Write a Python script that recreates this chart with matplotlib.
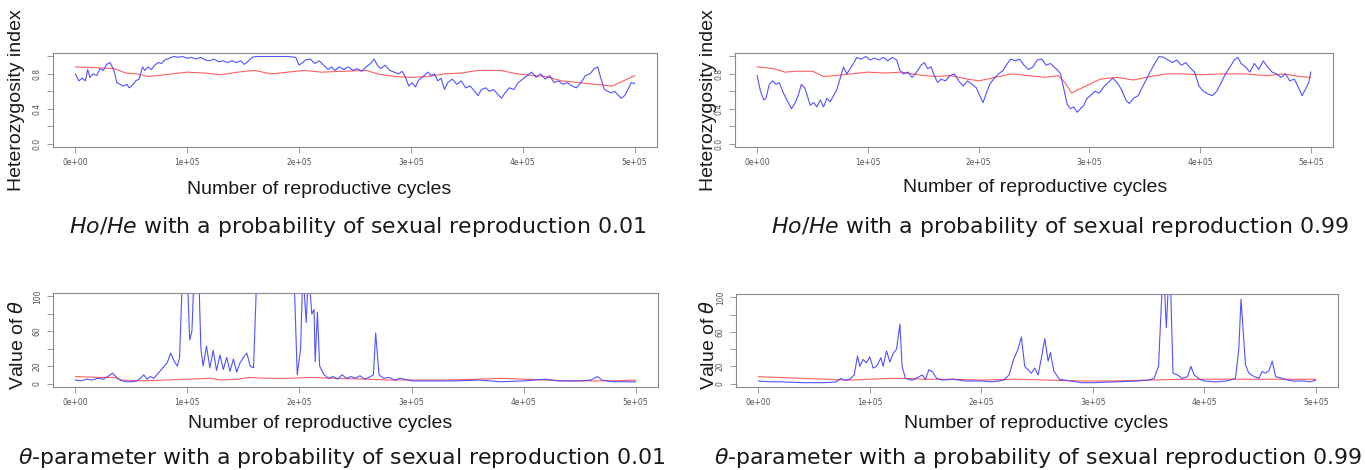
import matplotlib
matplotlib.use("Agg")
import matplotlib.pyplot as plt
import numpy as np

# ---------------- data (x in thousands of reproductive cycles) ----------------
x_ticks = [0, 100000, 200000, 300000, 400000, 500000]
x_tick_labels = ["0e+00", "1e+05", "2e+05", "3e+05", "4e+05", "5e+05"]
het_ticks = [0.0, 0.2, 0.4, 0.6, 0.8, 1.0]
het_tick_labels = ["0.0", "", "0.4", "", "0.8", ""]
theta_ticks = [0, 20, 40, 60, 80, 100]
theta_tick_labels = ["0", "20", "", "60", "", "100"]

het01_blue_x = [0,3,6,9,11,13,16,19,22,25,28,31,33,35,37,40,43,46,48,51,54,57,60,62,65,68,71,74,77,80,84,88,92,96,100,104,108,112,116,120,124,128,132,136,140,144,148,151,154,158,162,170,180,190,197,200,203,206,210,214,218,222,226,229,232,236,240,244,248,252,256,260,264,267,270,273,277,281,285,289,292,295,298,301,304,307,311,315,318,321,324,327,330,333,337,341,345,349,353,357,360,363,367,370,374,378,381,384,388,392,396,400,404,408,412,416,420,424,428,432,436,440,444,448,452,456,460,464,467,470,473,476,479,482,485,488,491,494,497,500]
het01_blue_y = [0.80,0.72,0.75,0.72,0.85,0.76,0.80,0.78,0.86,0.84,0.91,0.93,0.88,0.82,0.70,0.68,0.66,0.68,0.64,0.67,0.72,0.74,0.88,0.84,0.88,0.85,0.90,0.93,0.92,0.96,0.98,1.0,0.99,1.0,0.98,0.99,0.97,0.99,0.96,0.95,0.97,0.94,0.95,0.93,0.95,0.93,0.95,0.91,0.94,0.99,1.0,1.0,1.0,1.0,0.99,0.90,0.93,0.96,0.97,0.92,0.95,0.90,0.85,0.88,0.84,0.88,0.85,0.88,0.84,0.86,0.83,0.88,0.92,0.97,0.90,0.86,0.90,0.84,0.82,0.80,0.83,0.77,0.66,0.70,0.65,0.73,0.77,0.82,0.78,0.80,0.72,0.75,0.62,0.70,0.74,0.68,0.72,0.64,0.66,0.60,0.55,0.62,0.64,0.60,0.62,0.56,0.52,0.58,0.64,0.62,0.70,0.74,0.78,0.82,0.76,0.80,0.74,0.78,0.70,0.72,0.68,0.70,0.66,0.64,0.70,0.78,0.80,0.86,0.88,0.74,0.62,0.60,0.58,0.60,0.56,0.52,0.55,0.62,0.70,0.69]
het01_red_x = [0,20,35,45,55,65,80,100,115,130,145,160,175,190,205,220,240,260,270,285,300,315,330,345,360,380,395,410,420,435,450,465,480,490,500]
het01_red_y = [0.88,0.87,0.86,0.81,0.80,0.77,0.79,0.82,0.81,0.79,0.82,0.84,0.80,0.82,0.84,0.82,0.83,0.84,0.80,0.77,0.76,0.77,0.80,0.81,0.84,0.84,0.80,0.78,0.77,0.72,0.70,0.68,0.66,0.72,0.78]

het99_blue_x = [0,3,6,8,11,14,17,20,23,26,29,31,34,37,40,43,46,48,51,54,57,60,63,66,69,72,75,78,81,84,87,90,94,98,102,106,110,114,118,122,126,129,132,136,140,144,148,151,154,157,160,163,166,170,174,178,182,186,190,194,198,201,204,207,210,214,218,222,226,229,233,237,241,245,249,253,257,261,265,268,271,274,277,280,283,286,289,292,295,298,301,305,309,313,317,321,325,329,333,336,340,344,348,352,356,360,363,367,371,375,379,383,387,391,395,399,403,407,411,415,419,423,427,431,434,437,441,445,449,453,457,461,465,469,473,477,481,485,489,492,495,498,500]
het99_blue_y = [0.78,0.60,0.50,0.52,0.68,0.72,0.68,0.70,0.60,0.52,0.45,0.40,0.46,0.55,0.68,0.64,0.52,0.44,0.47,0.42,0.50,0.42,0.52,0.48,0.55,0.62,0.75,0.88,0.80,0.86,0.92,0.99,0.97,1.0,0.96,0.98,0.96,0.99,0.95,0.99,0.96,0.84,0.80,0.82,0.76,0.82,0.90,0.93,0.86,0.88,0.78,0.70,0.74,0.72,0.78,0.80,0.72,0.66,0.72,0.68,0.64,0.55,0.47,0.58,0.68,0.75,0.80,0.84,0.92,0.97,0.95,0.97,0.90,0.85,0.88,0.96,0.97,0.90,0.92,0.88,0.85,0.80,0.62,0.45,0.40,0.42,0.36,0.40,0.44,0.52,0.55,0.60,0.58,0.65,0.70,0.75,0.70,0.62,0.50,0.46,0.52,0.55,0.65,0.75,0.85,0.94,1.0,0.99,0.96,0.93,0.96,0.90,0.93,0.87,0.82,0.66,0.60,0.57,0.55,0.60,0.70,0.80,0.88,0.96,0.99,0.92,0.88,0.82,0.92,0.85,0.95,0.88,0.82,0.80,0.76,0.80,0.72,0.74,0.64,0.55,0.62,0.70,0.82]
het99_red_x = [0,15,25,35,50,60,70,85,100,115,130,145,160,175,190,200,215,230,245,260,272,278,284,290,300,310,325,340,355,370,385,400,420,440,460,475,490,500]
het99_red_y = [0.88,0.86,0.82,0.83,0.83,0.77,0.78,0.80,0.82,0.81,0.82,0.79,0.77,0.78,0.74,0.72,0.76,0.80,0.78,0.76,0.78,0.70,0.58,0.62,0.68,0.74,0.76,0.73,0.77,0.80,0.80,0.79,0.80,0.80,0.78,0.80,0.77,0.76]

theta01_blue_x = [0,5,10,15,20,25,30,33,36,40,45,50,55,58,61,64,67,70,74,78,82,85,88,91,93,95,98,100,102,104,106,108,110,112,114,117,120,123,126,129,132,135,138,141,144,147,150,153,156,159,162,170,180,190,195,198,201,203,206,208,211,213,214,216,218,222,226,230,234,238,242,246,250,254,258,262,266,268,271,275,280,285,290,300,320,340,360,380,400,410,420,430,450,460,466,470,480,490,500]
theta01_blue_y = [4,3,5,4,6,5,9,12,8,4,2,2,3,6,10,5,8,6,12,18,24,35,26,20,30,105,130,120,50,60,130,110,130,40,20,43,18,38,15,33,16,30,14,28,13,24,30,35,20,18,130,140,140,140,130,10,40,130,70,130,80,85,25,82,20,10,6,8,5,10,6,8,6,9,5,7,10,58,10,6,7,4,6,3,3,3,4,2,3,4,5,3,3,4,8,4,2,2,2]
theta01_red_x = [0,20,35,40,60,80,100,120,130,145,155,170,190,210,230,260,280,300,330,360,380,400,420,440,460,480,500]
theta01_red_y = [8,7,7,4,3,4,5,6,4,5,7,6,6,7,6,5,4,4,4,5,6,5,4,3,3,3,4]

theta99_blue_x = [0,10,20,40,60,70,74,77,82,86,89,91,94,97,100,103,106,110,112,115,118,121,124,127,129,132,138,143,147,150,153,156,160,165,175,185,200,210,220,225,229,233,236,239,242,245,248,251,254,257,260,262,265,270,280,290,300,320,340,350,355,359,362,364,366,368,370,372,376,380,385,388,391,396,400,410,420,428,431,433,435,437,440,445,449,452,455,458,461,464,470,475,480,490,495,500]
theta99_blue_y = [3,2,2,1,1,2,6,4,5,10,32,20,28,24,31,18,20,30,20,38,25,35,40,69,20,6,4,7,10,5,16,14,6,4,5,3,3,2,4,10,28,40,54,20,16,12,18,10,30,52,26,36,15,5,3,1,1,2,3,4,6,20,105,120,65,120,105,12,10,6,8,20,10,5,3,2,3,6,40,98,60,22,12,8,6,14,12,15,26,8,6,4,3,3,2,4]
theta99_red_x = [0,20,40,60,80,100,120,130,150,175,200,230,260,290,320,350,380,410,440,470,500]
theta99_red_y = [8,7,6,5,4,5,6,6,5,5,4,5,4,3,3,4,5,5,5,5,5]

# ---------------- layout helpers (pixel -> figure fraction) ----------------
W, H = 1365, 470
def fx(px):
    return px / W
def fy(py):
    return 1 - py / H
def ax_rect(l, r, t, b):
    return [l / W, 1 - b / H, (r - l) / W, (b - t) / H]

BLUE = (0.25, 0.25, 1.0)
RED = (1.0, 0.3, 0.3)
FRAME = "#8a8a8a"

fig = plt.figure(figsize=(13.65, 4.70), dpi=100)

panels = [
    dict(rect=ax_rect(53, 657, 53, 147), bx=het01_blue_x, by=het01_blue_y, rx=het01_red_x, ry=het01_red_y,
         ylim=(-0.04, 1.04), yt=het_ticks, ytl=het_tick_labels),
    dict(rect=ax_rect(735, 1333, 53, 147), bx=het99_blue_x, by=het99_blue_y, rx=het99_red_x, ry=het99_red_y,
         ylim=(-0.04, 1.04), yt=het_ticks, ytl=het_tick_labels),
    dict(rect=ax_rect(53, 658, 293, 387), bx=theta01_blue_x, by=theta01_blue_y, rx=theta01_red_x, ry=theta01_red_y,
         ylim=(-4, 104), yt=theta_ticks, ytl=theta_tick_labels),
    dict(rect=ax_rect(736, 1338, 294, 387), bx=theta99_blue_x, by=theta99_blue_y, rx=theta99_red_x, ry=theta99_red_y,
         ylim=(-4, 104), yt=theta_ticks, ytl=theta_tick_labels),
]

for p in panels:
    ax = fig.add_axes(p["rect"])
    ax.plot(np.array(p["rx"]) * 1000, p["ry"], color=RED, lw=0.8, alpha=0.9)
    ax.plot(np.array(p["bx"]) * 1000, p["by"], color=BLUE, lw=0.8, alpha=0.9)
    ax.set_xlim(-20000, 520000)
    ax.set_ylim(*p["ylim"])
    ax.set_xticks(x_ticks)
    ax.set_xticklabels(x_tick_labels)
    ax.set_yticks(p["yt"])
    ax.set_yticklabels(p["ytl"], rotation=90, va="center")
    ax.tick_params(length=4, width=0.6, color=FRAME, labelsize=5.5, labelcolor="#555555", pad=4)
    for s in ax.spines.values():
        s.set_color(FRAME)
        s.set_linewidth(0.8)

LAB = dict(family="Liberation Sans", color="#1a1a1a")
CAP = dict(family="DejaVu Sans", color="#1a1a1a", fontsize=15.8)

# y labels
fig.text(fx(17), fy(100), "Heterozygosity index", rotation=90, ha="center", va="center", fontsize=14, **LAB)
fig.text(fx(708), fy(100), "Heterozygosity index", rotation=90, ha="center", va="center", fontsize=14, **LAB)
fig.text(fx(18), fy(345), r"Value of $\theta$", rotation=90, ha="center", va="center", fontsize=14, **LAB)
fig.text(fx(708), fy(345), r"Value of $\theta$", rotation=90, ha="center", va="center", fontsize=14, **LAB)

# x labels
fig.text(fx(319), fy(190), "Number of reproductive cycles", ha="center", va="center", fontsize=14, **LAB)
fig.text(fx(1035), fy(188), "Number of reproductive cycles", ha="center", va="center", fontsize=14, **LAB)
fig.text(fx(320), fy(424), "Number of reproductive cycles", ha="center", va="center", fontsize=14, **LAB)
fig.text(fx(1036), fy(424), "Number of reproductive cycles", ha="center", va="center", fontsize=14, **LAB)

# captions
fig.text(fx(358), fy(227), r"$\mathit{Ho/He}$ with a probability of sexual reproduction 0.01", ha="center", va="center", **CAP)
fig.text(fx(1060), fy(227), r"$\mathit{Ho/He}$ with a probability of sexual reproduction 0.99", ha="center", va="center", **CAP)
fig.text(fx(342), fy(458), r"$\theta$-parameter with a probability of sexual reproduction 0.01", ha="center", va="center", **CAP)
fig.text(fx(1038), fy(458), r"$\theta$-parameter with a probability of sexual reproduction 0.99", ha="center", va="center", **CAP)

fig.savefig("out.png", dpi=100, facecolor="white")
